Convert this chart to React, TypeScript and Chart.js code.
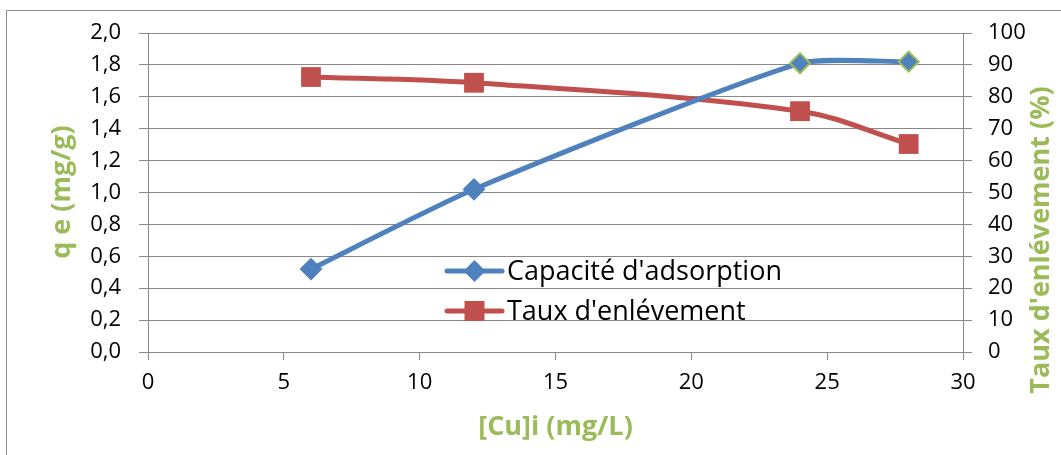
import React, { useEffect, useRef } from 'react';
import { Chart, registerables } from 'chart.js';

Chart.register(...registerables);

// ---- data ----
const concentrations = [6, 12, 24, 28];
const capacityValues = [0.52, 1.02, 1.81, 1.82];
const removalValues = [86.2, 84.4, 75.5, 65.2];
const seriesLabels = ["Capacité d'adsorption", "Taux d'enlévement"];
const xTitle = '[Cu]i (mg/L)';
const yLeftTitle = 'q e (mg/g)';
const yRightTitle = "Taux d'enlévement (%)";

const BLUE = '#4F81BD';
const RED = '#C0504D';
const GREEN = '#9BBB59';
const GRID = '#888888';
const FONT = '"Open Sans", Lato, sans-serif';

function drawDiamond(ctx: CanvasRenderingContext2D, x: number, y: number, r: number) {
  ctx.beginPath();
  ctx.moveTo(x, y - r);
  ctx.lineTo(x + r, y);
  ctx.lineTo(x, y + r);
  ctx.lineTo(x - r, y);
  ctx.closePath();
}

const decorPlugin = {
  id: 'decor',
  beforeDraw(chart: any) {
    const ctx = chart.ctx as CanvasRenderingContext2D;
    ctx.save();
    ctx.fillStyle = '#ffffff';
    ctx.fillRect(0, 0, chart.width, chart.height);
    ctx.strokeStyle = '#8c8c8c';
    ctx.lineWidth = 1;
    ctx.strokeRect(6.5, 10.5, chart.width + 20, chart.height + 20);
    ctx.restore();
  },
  afterDraw(chart: any) {
    const ctx = chart.ctx as CanvasRenderingContext2D;
    const area = chart.chartArea;
    ctx.save();
    // axis titles
    ctx.fillStyle = GREEN;
    ctx.font = `bold 27px ${FONT}`;
    ctx.textAlign = 'center';
    ctx.textBaseline = 'middle';
    ctx.fillText(xTitle, (area.left + area.right) / 2, 427);

    ctx.save();
    ctx.translate(62, 192);
    ctx.rotate(-Math.PI / 2);
    ctx.fillText(yLeftTitle, 0, 0);
    ctx.restore();

    ctx.save();
    ctx.translate(1041, 240);
    ctx.rotate(-Math.PI / 2);
    ctx.fillText(yRightTitle, 0, 0);
    ctx.restore();

    // legend
    const lx0 = 447;
    const lx1 = 502;
    const mx = 474.5;
    const ys = [271, 311];
    ctx.font = `27px ${FONT}`;
    ctx.textAlign = 'left';
    chart.data.datasets.forEach((ds: any, i: number) => {
      const y = ys[i];
      ctx.strokeStyle = ds.borderColor;
      ctx.lineWidth = 5;
      ctx.lineCap = 'round';
      ctx.beginPath();
      ctx.moveTo(lx0, y);
      ctx.lineTo(lx1, y);
      ctx.stroke();
      ctx.fillStyle = ds.borderColor;
      if (i === 0) {
        drawDiamond(ctx, mx, y, 11);
        ctx.fill();
      } else {
        ctx.fillRect(mx - 10, y - 10, 20, 20);
      }
      ctx.fillStyle = '#000000';
      ctx.fillText(ds.label, 507, y + 1);
    });
    ctx.restore();
  },
};

export default function App() {
  const canvasRef = useRef<HTMLCanvasElement | null>(null);

  useEffect(() => {
    if (!canvasRef.current) return;
    const chart = new Chart(canvasRef.current, {
      type: 'line',
      data: {
        datasets: [
          {
            label: seriesLabels[0],
            data: concentrations.map((x, i) => ({ x, y: capacityValues[i] })),
            yAxisID: 'y',
            borderColor: BLUE,
            backgroundColor: BLUE,
            borderWidth: 5,
            tension: 0.2,
            pointStyle: 'rectRot',
            pointRadius: 10,
            pointHoverRadius: 10,
            pointBackgroundColor: BLUE,
            pointBorderColor: [BLUE, BLUE, GREEN, GREEN],
            pointBorderWidth: 2,
          },
          {
            label: seriesLabels[1],
            data: concentrations.map((x, i) => ({ x, y: removalValues[i] })),
            yAxisID: 'y1',
            borderColor: RED,
            backgroundColor: RED,
            borderWidth: 5,
            tension: 0.35,
            pointStyle: 'rect',
            pointRadius: 14,
            pointHoverRadius: 14,
            pointBackgroundColor: RED,
            pointBorderColor: RED,
            pointBorderWidth: 0,
          },
        ],
      },
      options: {
        animation: false,
        responsive: true,
        maintainAspectRatio: false,
        layout: { padding: { top: 33, left: 0, right: 0, bottom: 0 } },
        plugins: {
          legend: { display: false },
          tooltip: { enabled: false },
        },
        scales: {
          x: {
            type: 'linear',
            min: 0,
            max: 30,
            afterFit: (s: any) => { s.height = 103; },
            ticks: { stepSize: 5, color: '#000', font: { family: FONT, size: 22 }, padding: 10 },
            grid: { drawOnChartArea: false, color: GRID, tickLength: 8 },
            border: { color: GRID },
          },
          y: {
            type: 'linear',
            position: 'left',
            min: 0,
            max: 2,
            afterFit: (s: any) => { s.width = 148; },
            ticks: {
              stepSize: 0.2,
              color: '#000',
              font: { family: FONT, size: 22 },
              padding: 18,
              callback: (v: any) => Number(v).toFixed(1).replace('.', ','),
            },
            grid: { color: GRID, tickLength: 9 },
            border: { color: GRID },
          },
          y1: {
            type: 'linear',
            position: 'right',
            min: 0,
            max: 100,
            afterFit: (s: any) => { s.width = 98; },
            ticks: { stepSize: 10, color: '#000', font: { family: FONT, size: 22 }, padding: 16 },
            grid: { drawOnChartArea: false, color: GRID, tickLength: 9 },
            border: { color: GRID },
          },
        },
      },
      plugins: [decorPlugin],
    });
    return () => chart.destroy();
  }, []);

  return (
    <div style={{ position: 'absolute', left: 0, top: 0, width: 1061, height: 455 }}>
      <canvas ref={canvasRef} />
    </div>
  );
}
